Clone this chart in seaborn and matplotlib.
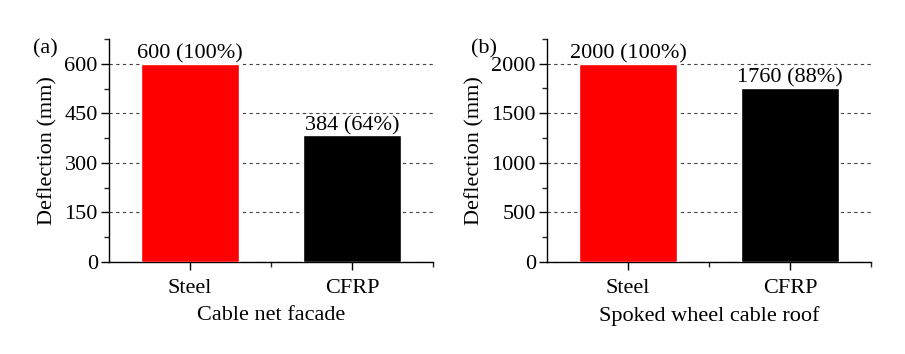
import pandas as pd
import numpy as np
import matplotlib.pyplot as plt
import seaborn as sns
from matplotlib.ticker import MultipleLocator, FixedLocator

materials = ["Steel", "CFRP"]
facade_defl = [600, 384]
facade_pct = ["100%", "64%"]
roof_defl = [2000, 1760]
roof_pct = ["100%", "88%"]

sns.set_style("ticks")
plt.rcParams['font.family'] = ['Liberation Serif', 'DejaVu Serif']
plt.rcParams['font.size'] = 16
plt.rcParams['text.color'] = 'black'
plt.rcParams['axes.labelcolor'] = 'black'

fig = plt.figure(figsize=(9.05, 3.54), dpi=100)
ax1 = fig.add_axes([0.1204, 0.260, 0.358, 0.630])
ax2 = fig.add_axes([0.6044, 0.260, 0.358, 0.630])

panels = [
    (ax1, facade_defl, facade_pct, "Cable net facade", 675, 150, "(a)"),
    (ax2, roof_defl, roof_pct, "Spoked wheel cable roof", 2250, 500, "(b)"),
]

for ax, vals, pcts, xlab, ytop, step, tag in panels:
    df = pd.DataFrame({"Material": materials, "Deflection": vals})
    sns.barplot(data=df, x="Material", y="Deflection", hue="Material",
                palette=["#ff0000", "#000000"], width=0.6, saturation=1,
                legend=False, ax=ax, zorder=3)
    ax.set_xlim(-0.5, 1.5)
    ax.set_ylim(0, ytop)
    ax.yaxis.set_major_locator(MultipleLocator(step))
    ax.yaxis.set_minor_locator(MultipleLocator(step / 2))
    ax.xaxis.set_minor_locator(FixedLocator([0.5, 1.5]))
    ax.grid(axis="y", which="major", linestyle=(0, (3, 3)), color="#444444",
            linewidth=0.8, zorder=0)
    ax.set_axisbelow(True)
    ax.tick_params(which="major", direction="out", length=6, width=1,
                   labelsize=16, colors="black", pad=2)
    ax.tick_params(axis="x", which="major", pad=6)
    ax.tick_params(which="minor", direction="out", length=3.5, width=1)
    for s in ["top", "right"]:
        ax.spines[s].set_visible(False)
    for s in ["left", "bottom"]:
        ax.spines[s].set_linewidth(1)
        ax.spines[s].set_color("black")
    ax.set_xlabel(xlab, fontsize=16, labelpad=6)
    ax.set_ylabel("Deflection (mm)", fontsize=16, labelpad=5)
    for i, (v, p) in enumerate(zip(vals, pcts)):
        ax.text(i, v, f"{v} ({p})", ha="center", va="bottom", fontsize=16)
    ax.text(-0.235, 1.0, tag, transform=ax.transAxes, fontsize=16,
            ha="left", va="top")

fig.savefig("out.png", dpi=100)
